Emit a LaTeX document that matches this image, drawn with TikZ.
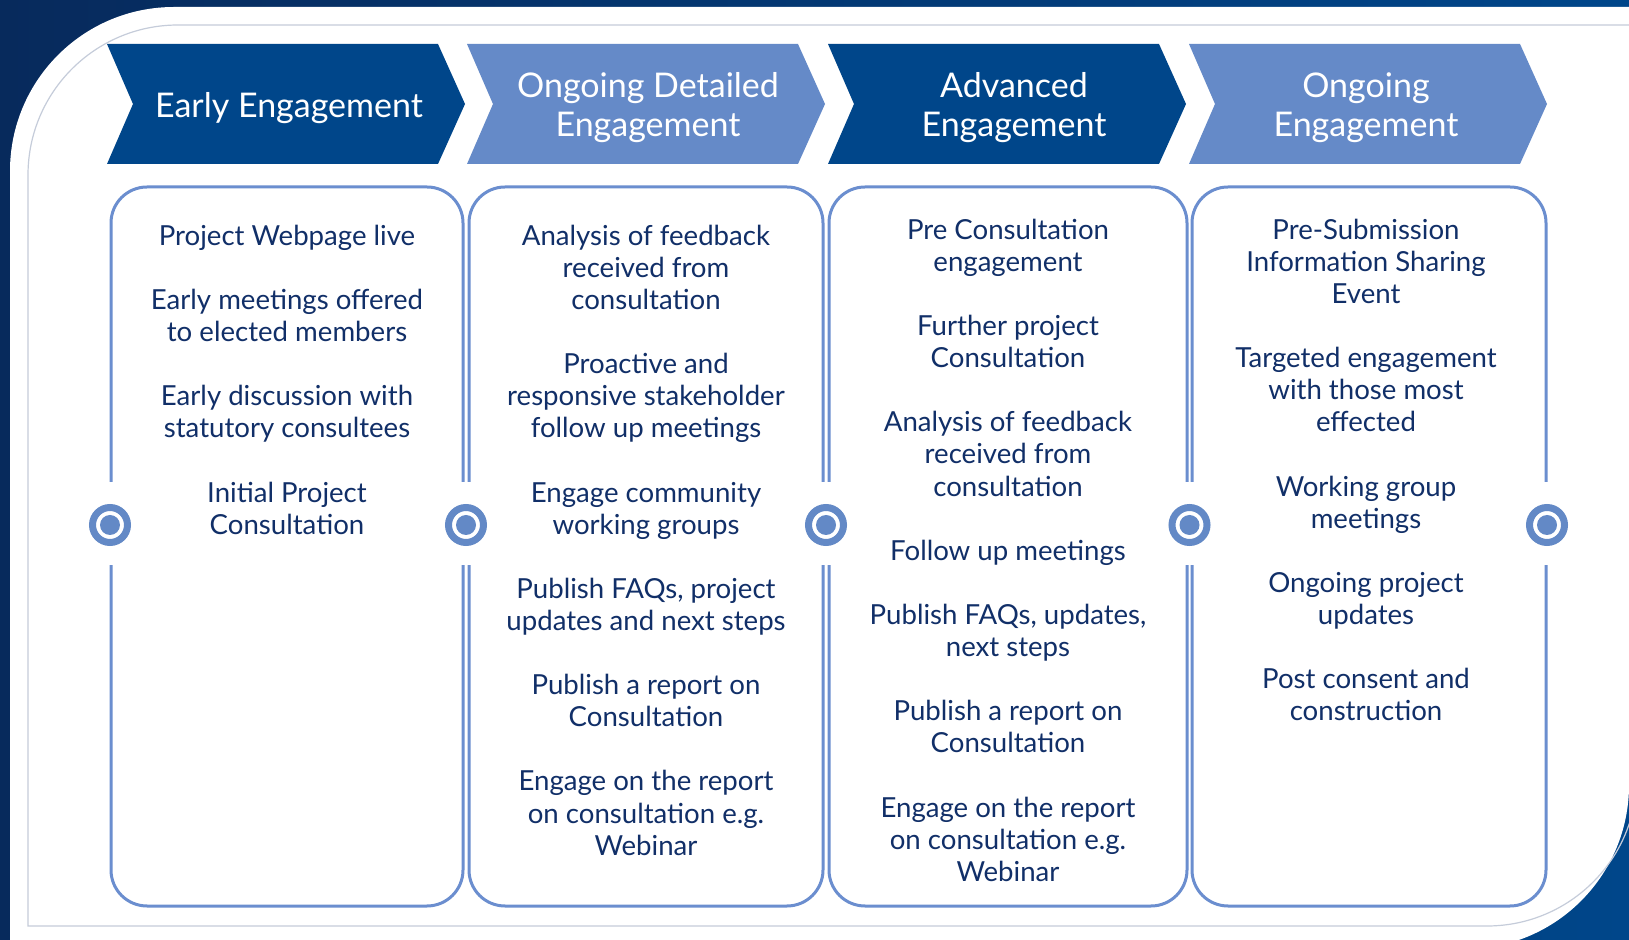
\documentclass[tikz,border=0pt]{standalone}
\usepackage{fontspec}
\setmainfont{Lato}
\usetikzlibrary{calc}
\definecolor{bgnavyA}{HTML}{072A5C}
\definecolor{bgnavyB}{HTML}{00468A}
\definecolor{chevnavy}{HTML}{00468A}
\definecolor{chevblue}{HTML}{658AC8}
\definecolor{boxblue}{HTML}{6B8ECF}
\definecolor{ringblue}{HTML}{6389C6}
\definecolor{textnavy}{HTML}{112F68}
\definecolor{framegray}{HTML}{C5CCDA}
\newcommand{\chev}[2]{\fill[#2] ( #1 , 44 ) -- ( #1 + 331 , 44 ) -- ( #1 + 358 , 104 ) -- ( #1 + 331 , 164 ) -- ( #1 , 164 ) -- ( #1 + 26 , 104 ) -- cycle;}
\newcommand{\colbox}[2]{\draw[boxline] ( #1 , 187 ) rectangle ( #2 , 906 );}
\newcommand{\nextitem}{\\[16.05pt]}

\begin{document}
\begin{tikzpicture}[x=0.5pt,y=-0.5pt,
    boxline/.style={draw=boxblue, line width=1.5pt, rounded corners=18pt},
    itemtext/.style={text=textnavy, font=\fontsize{13.8}{16.05}\selectfont, align=center, anchor=north, inner sep=0pt},
    headtext/.style={text=white, font=\fontsize{17}{19.5}\selectfont, align=center, inner sep=0pt},
    hub/.style={circle, draw=ringblue, line width=3.5pt, fill=white, minimum size=17.5pt, inner sep=0pt,
        path picture={\fill[ringblue] (path picture bounding box.center) circle (5pt);}}]
    \useasboundingbox (0,0) rectangle (1629,940);
    \clip (0,0) rectangle (1629,940);
    % frame
    \shade[left color=bgnavyA, right color=bgnavyB] (0,0) rectangle (1629,940);
    \fill[white] (10,940) -- (10,171) arc[start angle=180, end angle=270, radius=164] -- (1629,7) -- (1629,785) arc[start angle=0, end angle=90, radius=164] -- (10,949) -- cycle;
    \draw[framegray, line width=0.6pt] (1640,25) -- (178,25) arc[start angle=270, end angle=180, radius=150] -- (28,926) -- (1487,926) arc[start angle=90, end angle=0, radius=150] -- (1637,700);
    % headers
    \chev{107}{chevnavy}
    \chev{467}{chevblue}
    \chev{828}{chevnavy}
    \chev{1189}{chevblue}
    \node[headtext] (head1) at (289,108) {Early Engagement};
    \node[headtext] (head2) at (648,108) {Ongoing Detailed\\Engagement};
    \node[headtext] (head3) at (1014,108) {Advanced\\Engagement};
    \node[headtext] (head4) at (1366,108) {Ongoing\\Engagement};
    % boxes
    \colbox{111}{463}
    \colbox{469}{823}
    \colbox{829}{1187}
    \colbox{1192}{1546}
    % column texts
    \node[itemtext] (col1) at (287,224.5) {Project Webpage live\nextitem
        Early meetings offered\\to elected members\nextitem
        Early discussion with\\statutory consultees\nextitem
        Initial Project\\Consultation};
    \node[itemtext] (col2) at (646,224.5) {Analysis of feedback\\received from\\consultation\nextitem
        Proactive and\\responsive stakeholder\\follow up meetings\nextitem
        Engage community\\working groups\nextitem
        Publish FAQs, project\\updates and next steps\nextitem
        Publish a report on\\Consultation\nextitem
        Engage on the report\\on consultation e.g.\\Webinar};
    \node[itemtext] (col3) at (1008,218.5) {Pre Consultation\\engagement\nextitem
        Further project\\Consultation\nextitem
        Analysis of feedback\\received from\\consultation\nextitem
        Follow up meetings\nextitem
        Publish FAQs, updates,\\next steps\nextitem
        Publish a report on\\Consultation\nextitem
        Engage on the report\\on consultation e.g.\\Webinar};
    \node[itemtext] (col4) at (1366,218.5) {Pre-Submission\\Information Sharing\\Event\nextitem
        Targeted engagement\\with those most\\effected\nextitem
        Working group\\meetings\nextitem
        Ongoing project\\updates\nextitem
        Post consent and\\construction};
    % hubs
    \foreach \hx [count=\i] in {110,466,826,1189.5,1547} {
        \fill[white] (\hx-12,482) rectangle (\hx+12,565);
        \node[hub] (h\i) at (\hx,525) {};
    }
\end{tikzpicture}
\end{document}
